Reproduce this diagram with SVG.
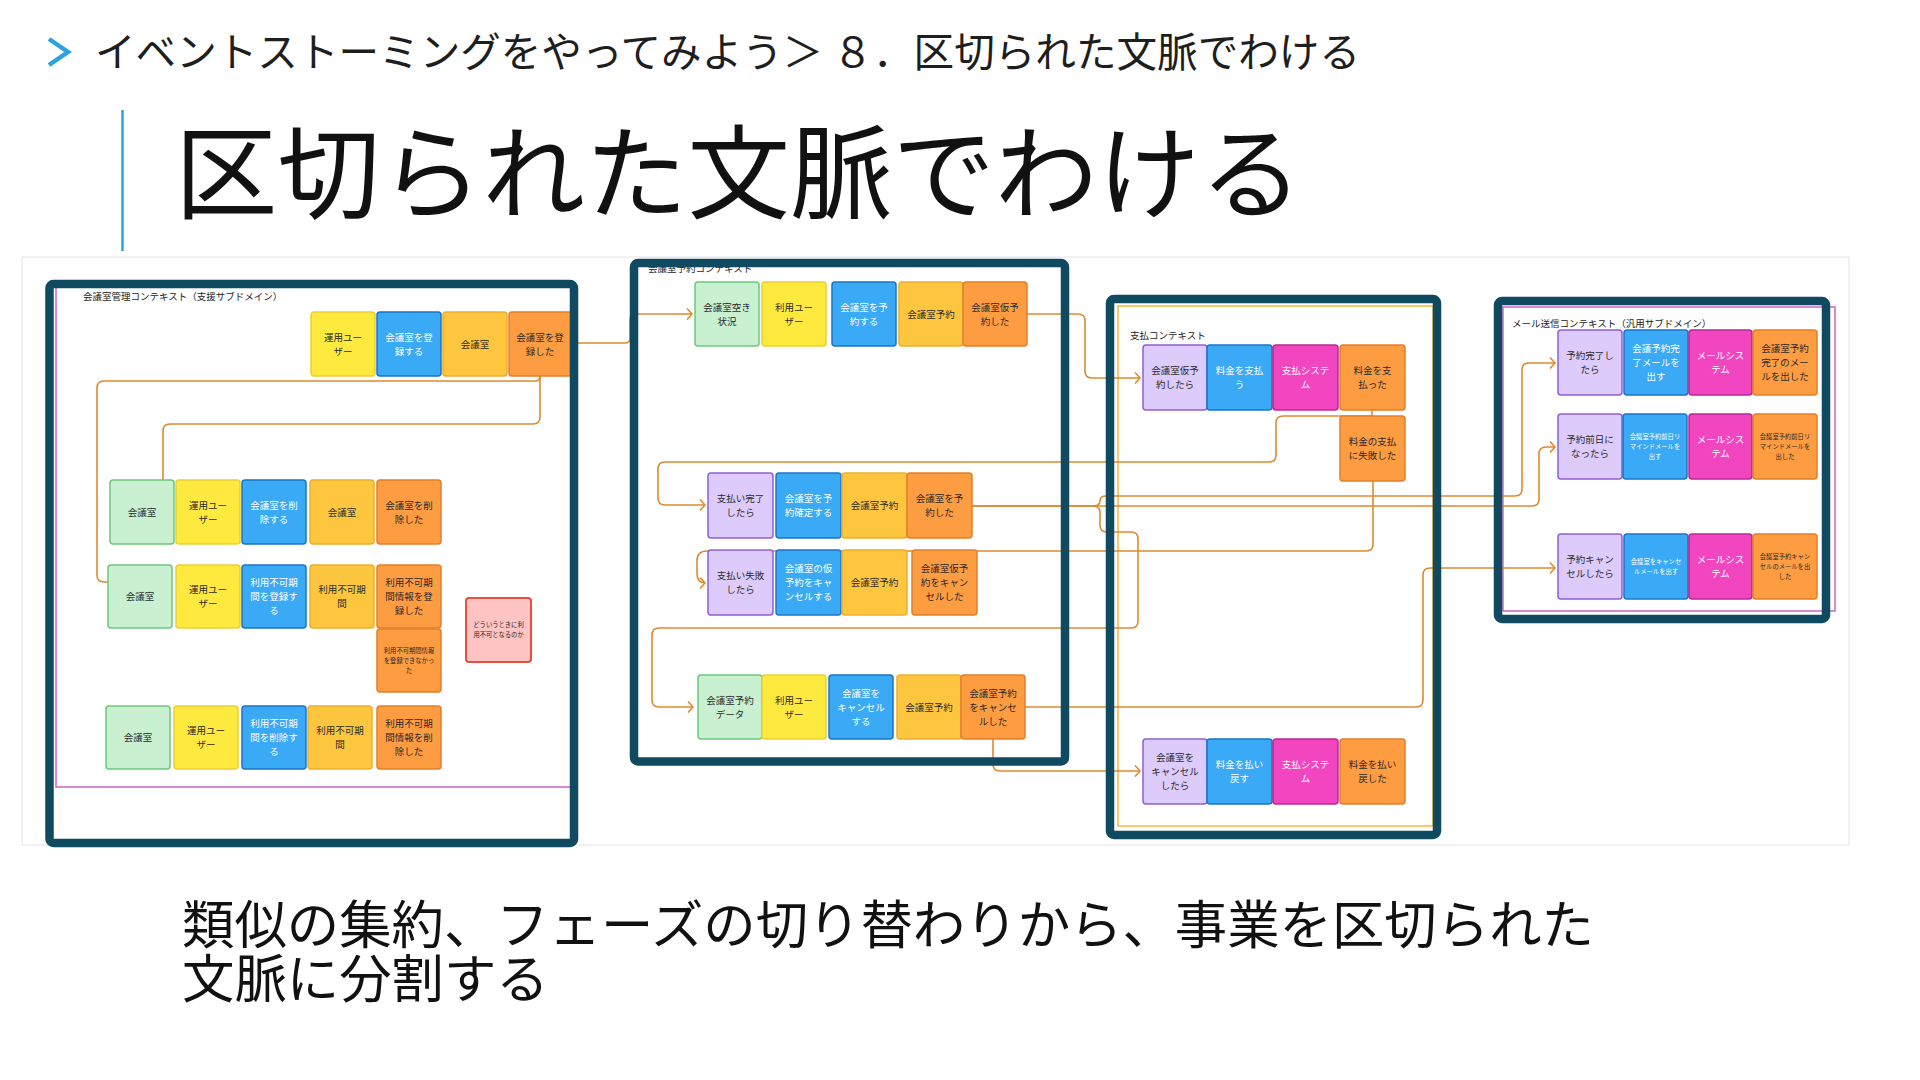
<svg xmlns="http://www.w3.org/2000/svg" width="1920" height="1080" viewBox="0 0 1920 1080">
<style>
text{font-family:"Noto Sans CJK JP","Noto Sans",sans-serif}
.s{stroke-width:1.5}
.g{fill:#c9f0d1;stroke:#6cc87a}
.y{fill:#fee93f;stroke:#ecd033}
.b{fill:#3aa9f6;stroke:#1a76c7}
.lo{fill:#fec63f;stroke:#ecae2d}
.o{fill:#fe9c42;stroke:#e47f28}
.p{fill:#dccbfb;stroke:#8f5fd8}
.m{fill:#f146c0;stroke:#b82a92}
.n{fill:#fec4c4;stroke:#e4513e;stroke-width:2}
.t{font-size:9.5px;fill:#2a2a2a;text-anchor:middle}
.tw{font-size:9.5px;fill:#ffffff;text-anchor:middle}
.ts{font-size:6.3px;fill:#2a2a2a;text-anchor:middle}
.tsw{font-size:6.3px;fill:#ffffff;text-anchor:middle}
.lbl{font-size:9.5px;fill:#222}
.frame{fill:none;stroke:#0f4a60;stroke-width:8.5}
.con{fill:none;stroke:#e0892e;stroke-width:1.6;stroke-linejoin:round}
</style>
<defs>
<marker id="ah" viewBox="0 0 10 12" refX="9" refY="6" markerWidth="10" markerHeight="12" orient="auto" markerUnits="userSpaceOnUse">
<path d="M4,0.5 L9,6 L4,11.5" fill="none" stroke="#e0892e" stroke-width="1.6"/>
</marker>
</defs>
<rect width="1920" height="1080" fill="#ffffff"/>

<g id="header">
<polyline points="49,39 68,52 49,65" fill="none" stroke="#2aa5de" stroke-width="4.5"/>
<text x="95" y="67" font-size="40.6" fill="#1e1e1e">イベントストーミングをやってみよう＞ ８．区切られた文脈でわける</text>
<line x1="122.5" y1="110" x2="122.5" y2="251" stroke="#2aa5de" stroke-width="2.5"/>
<text x="175" y="211" font-size="102.5" fill="#111">区切られた文脈でわける</text>
</g>

<rect id="panel" x="22" y="257" width="1827" height="588" fill="#ffffff" stroke="#e8e8e8" stroke-width="1.2"/>

<g id="context-areas">
<rect x="56" y="286" width="516" height="501" fill="none" stroke="#d063c9" stroke-width="1.5"/>
<rect x="1118" y="306" width="315" height="520" fill="none" stroke="#f6b83c" stroke-width="1.5"/>
<rect x="1503" y="307" width="332" height="304" fill="none" stroke="#d063c9" stroke-width="1.5"/>
<text class="lbl" x="83" y="299.5">会議室管理コンテキスト（支援サブドメイン）</text>
<text class="lbl" x="648" y="272">会議室予約コンテキスト</text>
<text class="lbl" x="1130" y="339">支払コンテキスト</text>
<text class="lbl" x="1512" y="326.5">メール送信コンテキスト（汎用サブドメイン）</text>
</g>

<g id="connectors">
<path class="con" d="M540,376 V417 Q540,424 533,424 H170 Q163,424 163,431 V480"/>
<path class="con" d="M540,376 Q540,381 535,381 H104 Q97,381 97,388 V575 Q97,582 104,582 H108"/>
<path class="con" d="M571,343 H625 Q630,343 630,338 V319 Q630,314 635,314 H692" marker-end="url(#ah)"/>
<path class="con" d="M1027,314 H1078 Q1085,314 1085,321 V371 Q1085,378 1092,378 H1140" marker-end="url(#ah)"/>
<path class="con" d="M1372,410 V416 H1283 Q1276,416 1276,423 V455 Q1276,462 1269,462 H665 Q658,462 658,469 V498 Q658,505 665,505 H705" marker-end="url(#ah)"/>
<path class="con" d="M1373,481 V544 Q1373,551 1366,551 H707 Q697,551 697,561 V573 Q697,583 705,583" marker-end="url(#ah)"/>
<path class="con" d="M972,506 H1092 Q1100,506 1100,501 Q1100,496 1106,496 H1515 Q1522,496 1522,489 V370 Q1522,363 1529,363 H1555" marker-end="url(#ah)"/>
<path class="con" d="M972,506 H1532 Q1539,506 1539,499 V454 Q1539,447 1546,447 H1555" marker-end="url(#ah)"/>
<path class="con" d="M1092,506 Q1100,506 1100,512 V525 Q1100,532 1107,532 H1131 Q1138,532 1138,539 V621 Q1138,628 1131,628 H659 Q652,628 652,635 V700 Q652,707 659,707 H693" marker-end="url(#ah)"/>
<path class="con" d="M1025,707 H1416 Q1423,707 1423,700 V575 Q1423,568 1430,568 H1555" marker-end="url(#ah)"/>
<path class="con" d="M993,739 V764 Q993,771 1000,771 H1140" marker-end="url(#ah)"/>
</g>

<!-- Box A stickies -->
<g id="a1-user"><rect class="s y" x="311" y="312" width="64" height="64" rx="3"/><text class="t"><tspan x="343" y="340.6">運用ユー</tspan><tspan x="343" y="354.6">ザー</tspan></text></g>
<g id="a1-cmd"><rect class="s b" x="377" y="312" width="64" height="64" rx="3"/><text class="tw"><tspan x="409" y="340.6">会議室を登</tspan><tspan x="409" y="354.6">録する</tspan></text></g>
<g id="a1-agg"><rect class="s lo" x="443" y="312" width="64" height="64" rx="3"/><text class="t" x="475" y="347.6">会議室</text></g>
<g id="a1-evt"><rect class="s o" x="509" y="312" width="63" height="64" rx="3"/><text class="t"><tspan x="540" y="340.6">会議室を登</tspan><tspan x="540" y="354.6">録した</tspan></text></g>

<g id="a2-rm"><rect class="s g" x="110" y="480" width="64" height="64" rx="3"/><text class="t" x="142" y="515.6">会議室</text></g>
<g id="a2-user"><rect class="s y" x="176" y="480" width="64" height="64" rx="3"/><text class="t"><tspan x="208" y="508.6">運用ユー</tspan><tspan x="208" y="522.6">ザー</tspan></text></g>
<g id="a2-cmd"><rect class="s b" x="242" y="480" width="64" height="64" rx="3"/><text class="tw"><tspan x="274" y="508.6">会議室を削</tspan><tspan x="274" y="522.6">除する</tspan></text></g>
<g id="a2-agg"><rect class="s lo" x="310" y="480" width="64" height="64" rx="3"/><text class="t" x="342" y="515.6">会議室</text></g>
<g id="a2-evt"><rect class="s o" x="377" y="480" width="64" height="64" rx="3"/><text class="t"><tspan x="409" y="508.6">会議室を削</tspan><tspan x="409" y="522.6">除した</tspan></text></g>

<g id="a3-rm"><rect class="s g" x="108" y="565" width="64" height="63" rx="3"/><text class="t" x="140" y="600.1">会議室</text></g>
<g id="a3-user"><rect class="s y" x="176" y="565" width="64" height="63" rx="3"/><text class="t"><tspan x="208" y="593.1">運用ユー</tspan><tspan x="208" y="607.1">ザー</tspan></text></g>
<g id="a3-cmd"><rect class="s b" x="242" y="565" width="64" height="63" rx="3"/><text class="tw"><tspan x="274" y="586.1">利用不可期</tspan><tspan x="274" y="600.1">間を登録す</tspan><tspan x="274" y="614.1">る</tspan></text></g>
<g id="a3-agg"><rect class="s lo" x="310" y="565" width="64" height="63" rx="3"/><text class="t"><tspan x="342" y="593.1">利用不可期</tspan><tspan x="342" y="607.1">間</tspan></text></g>
<g id="a3-evt"><rect class="s o" x="377" y="565" width="64" height="63" rx="3"/><text class="t"><tspan x="409" y="586.1">利用不可期</tspan><tspan x="409" y="600.1">間情報を登</tspan><tspan x="409" y="614.1">録した</tspan></text></g>
<g id="a3-fail"><rect class="s o" x="377" y="629" width="64" height="63" rx="3"/><text class="ts"><tspan x="409" y="652.9">利用不可期間情報</tspan><tspan x="409" y="662.9">を登録できなかっ</tspan><tspan x="409" y="672.9">た</tspan></text></g>
<g id="a-note"><rect class="n" x="466" y="598" width="65" height="64" rx="3"/><text class="ts"><tspan x="498.5" y="627.4">どういうときに利</tspan><tspan x="498.5" y="637.4">用不可となるのか</tspan></text></g>

<g id="a4-rm"><rect class="s g" x="106" y="706" width="64" height="63" rx="3"/><text class="t" x="138" y="741.1">会議室</text></g>
<g id="a4-user"><rect class="s y" x="174" y="706" width="64" height="63" rx="3"/><text class="t"><tspan x="206" y="734.1">運用ユー</tspan><tspan x="206" y="748.1">ザー</tspan></text></g>
<g id="a4-cmd"><rect class="s b" x="242" y="706" width="64" height="63" rx="3"/><text class="tw"><tspan x="274" y="727.1">利用不可期</tspan><tspan x="274" y="741.1">間を削除す</tspan><tspan x="274" y="755.1">る</tspan></text></g>
<g id="a4-agg"><rect class="s lo" x="308" y="706" width="64" height="63" rx="3"/><text class="t"><tspan x="340" y="734.1">利用不可期</tspan><tspan x="340" y="748.1">間</tspan></text></g>
<g id="a4-evt"><rect class="s o" x="377" y="706" width="64" height="63" rx="3"/><text class="t"><tspan x="409" y="727.1">利用不可期</tspan><tspan x="409" y="741.1">間情報を削</tspan><tspan x="409" y="755.1">除した</tspan></text></g>

<!-- Box B stickies -->
<g id="b1-read"><rect class="s g" x="695" y="282" width="64" height="64" rx="3"/><text class="t"><tspan x="727" y="310.6">会議室空き</tspan><tspan x="727" y="324.6">状況</tspan></text></g>
<g id="b1-user"><rect class="s y" x="762" y="282" width="64" height="64" rx="3"/><text class="t"><tspan x="794" y="310.6">利用ユー</tspan><tspan x="794" y="324.6">ザー</tspan></text></g>
<g id="b1-cmd"><rect class="s b" x="832" y="282" width="64" height="64" rx="3"/><text class="tw"><tspan x="864" y="310.6">会議室を予</tspan><tspan x="864" y="324.6">約する</tspan></text></g>
<g id="b1-agg"><rect class="s lo" x="899" y="282" width="64" height="64" rx="3"/><text class="t" x="931" y="317.6">会議室予約</text></g>
<g id="b1-evt"><rect class="s o" x="963" y="282" width="64" height="64" rx="3"/><text class="t"><tspan x="995" y="310.6">会議室仮予</tspan><tspan x="995" y="324.6">約した</tspan></text></g>

<g id="b2-pol"><rect class="s p" x="708" y="473" width="65" height="65" rx="3"/><text class="t"><tspan x="740.5" y="502.1">支払い完了</tspan><tspan x="740.5" y="516.1">したら</tspan></text></g>
<g id="b2-cmd"><rect class="s b" x="776" y="473" width="65" height="65" rx="3"/><text class="tw"><tspan x="808.5" y="502.1">会議室を予</tspan><tspan x="808.5" y="516.1">約確定する</tspan></text></g>
<g id="b2-agg"><rect class="s lo" x="842" y="473" width="65" height="65" rx="3"/><text class="t" x="874.5" y="509.1">会議室予約</text></g>
<g id="b2-evt"><rect class="s o" x="907" y="473" width="65" height="65" rx="3"/><text class="t"><tspan x="939.5" y="502.1">会議室を予</tspan><tspan x="939.5" y="516.1">約した</tspan></text></g>

<g id="b3-pol"><rect class="s p" x="708" y="550" width="65" height="65" rx="3"/><text class="t"><tspan x="740.5" y="579.1">支払い失敗</tspan><tspan x="740.5" y="593.1">したら</tspan></text></g>
<g id="b3-cmd"><rect class="s b" x="776" y="550" width="65" height="65" rx="3"/><text class="tw"><tspan x="808.5" y="572.1">会議室の仮</tspan><tspan x="808.5" y="586.1">予約をキャ</tspan><tspan x="808.5" y="600.1">ンセルする</tspan></text></g>
<g id="b3-agg"><rect class="s lo" x="842" y="550" width="65" height="65" rx="3"/><text class="t" x="874.5" y="586.1">会議室予約</text></g>
<g id="b3-evt"><rect class="s o" x="912" y="550" width="65" height="65" rx="3"/><text class="t"><tspan x="944.5" y="572.1">会議室仮予</tspan><tspan x="944.5" y="586.1">約をキャン</tspan><tspan x="944.5" y="600.1">セルした</tspan></text></g>

<g id="b4-read"><rect class="s g" x="698" y="675" width="64" height="64" rx="3"/><text class="t"><tspan x="730" y="703.6">会議室予約</tspan><tspan x="730" y="717.6">データ</tspan></text></g>
<g id="b4-user"><rect class="s y" x="762" y="675" width="64" height="64" rx="3"/><text class="t"><tspan x="794" y="703.6">利用ユー</tspan><tspan x="794" y="717.6">ザー</tspan></text></g>
<g id="b4-cmd"><rect class="s b" x="829" y="675" width="64" height="64" rx="3"/><text class="tw"><tspan x="861" y="696.6">会議室を</tspan><tspan x="861" y="710.6">キャンセル</tspan><tspan x="861" y="724.6">する</tspan></text></g>
<g id="b4-agg"><rect class="s lo" x="897" y="675" width="64" height="64" rx="3"/><text class="t" x="929" y="710.6">会議室予約</text></g>
<g id="b4-evt"><rect class="s o" x="961" y="675" width="64" height="64" rx="3"/><text class="t"><tspan x="993" y="696.6">会議室予約</tspan><tspan x="993" y="710.6">をキャンセ</tspan><tspan x="993" y="724.6">ルした</tspan></text></g>

<!-- Box C stickies -->
<g id="c1-pol"><rect class="s p" x="1143" y="345" width="64" height="65" rx="3"/><text class="t"><tspan x="1175" y="374.1">会議室仮予</tspan><tspan x="1175" y="388.1">約したら</tspan></text></g>
<g id="c1-cmd"><rect class="s b" x="1207" y="345" width="65" height="65" rx="3"/><text class="tw"><tspan x="1239.5" y="374.1">料金を支払</tspan><tspan x="1239.5" y="388.1">う</tspan></text></g>
<g id="c1-ext"><rect class="s m" x="1273" y="345" width="65" height="65" rx="3"/><text class="tw"><tspan x="1305.5" y="374.1">支払システ</tspan><tspan x="1305.5" y="388.1">ム</tspan></text></g>
<g id="c1-evt"><rect class="s o" x="1340" y="345" width="65" height="65" rx="3"/><text class="t"><tspan x="1372.5" y="374.1">料金を支</tspan><tspan x="1372.5" y="388.1">払った</tspan></text></g>
<g id="c1-fail"><rect class="s o" x="1340" y="416" width="65" height="65" rx="3"/><text class="t"><tspan x="1372.5" y="445.1">料金の支払</tspan><tspan x="1372.5" y="459.1">に失敗した</tspan></text></g>

<g id="c2-pol"><rect class="s p" x="1143" y="739" width="64" height="65" rx="3"/><text class="t"><tspan x="1175" y="761.1">会議室を</tspan><tspan x="1175" y="775.1">キャンセル</tspan><tspan x="1175" y="789.1">したら</tspan></text></g>
<g id="c2-cmd"><rect class="s b" x="1207" y="739" width="65" height="65" rx="3"/><text class="tw"><tspan x="1239.5" y="768.1">料金を払い</tspan><tspan x="1239.5" y="782.1">戻す</tspan></text></g>
<g id="c2-ext"><rect class="s m" x="1273" y="739" width="65" height="65" rx="3"/><text class="tw"><tspan x="1305.5" y="768.1">支払システ</tspan><tspan x="1305.5" y="782.1">ム</tspan></text></g>
<g id="c2-evt"><rect class="s o" x="1340" y="739" width="65" height="65" rx="3"/><text class="t"><tspan x="1372.5" y="768.1">料金を払い</tspan><tspan x="1372.5" y="782.1">戻した</tspan></text></g>

<!-- Box D stickies -->
<g id="d1-pol"><rect class="s p" x="1558" y="330" width="64" height="65" rx="3"/><text class="t"><tspan x="1590" y="359.1">予約完了し</tspan><tspan x="1590" y="373.1">たら</tspan></text></g>
<g id="d1-cmd"><rect class="s b" x="1624" y="330" width="64" height="65" rx="3"/><text class="tw"><tspan x="1656" y="352.1">会議予約完</tspan><tspan x="1656" y="366.1">了メールを</tspan><tspan x="1656" y="380.1">出す</tspan></text></g>
<g id="d1-ext"><rect class="s m" x="1689" y="330" width="63" height="65" rx="3"/><text class="tw"><tspan x="1720.5" y="359.1">メールシス</tspan><tspan x="1720.5" y="373.1">テム</tspan></text></g>
<g id="d1-evt"><rect class="s o" x="1753" y="330" width="64" height="65" rx="3"/><text class="t"><tspan x="1785" y="352.1">会議室予約</tspan><tspan x="1785" y="366.1">完了のメー</tspan><tspan x="1785" y="380.1">ルを出した</tspan></text></g>

<g id="d2-pol"><rect class="s p" x="1558" y="414" width="64" height="65" rx="3"/><text class="t"><tspan x="1590" y="443.1">予約前日に</tspan><tspan x="1590" y="457.1">なったら</tspan></text></g>
<g id="d2-cmd"><rect class="s b" x="1623" y="414" width="64" height="65" rx="3"/><text class="tsw"><tspan x="1655" y="438.9">会議室予約前日リ</tspan><tspan x="1655" y="448.9">マインドメールを</tspan><tspan x="1655" y="458.9">出す</tspan></text></g>
<g id="d2-ext"><rect class="s m" x="1689" y="414" width="63" height="65" rx="3"/><text class="tw"><tspan x="1720.5" y="443.1">メールシス</tspan><tspan x="1720.5" y="457.1">テム</tspan></text></g>
<g id="d2-evt"><rect class="s o" x="1753" y="414" width="64" height="65" rx="3"/><text class="ts"><tspan x="1785" y="438.9">会議室予約前日リ</tspan><tspan x="1785" y="448.9">マインドメールを</tspan><tspan x="1785" y="458.9">出した</tspan></text></g>

<g id="d3-pol"><rect class="s p" x="1558" y="534" width="64" height="65" rx="3"/><text class="t"><tspan x="1590" y="563.1">予約キャン</tspan><tspan x="1590" y="577.1">セルしたら</tspan></text></g>
<g id="d3-cmd"><rect class="s b" x="1624" y="534" width="64" height="65" rx="3"/><text class="tsw"><tspan x="1656" y="563.9">会議室をキャンセ</tspan><tspan x="1656" y="573.9">ルメールを出す</tspan></text></g>
<g id="d3-ext"><rect class="s m" x="1689" y="534" width="63" height="65" rx="3"/><text class="tw"><tspan x="1720.5" y="563.1">メールシス</tspan><tspan x="1720.5" y="577.1">テム</tspan></text></g>
<g id="d3-evt"><rect class="s o" x="1753" y="534" width="64" height="65" rx="3"/><text class="ts"><tspan x="1785" y="558.9">会議室予約キャン</tspan><tspan x="1785" y="568.9">セルのメールを出</tspan><tspan x="1785" y="578.9">した</tspan></text></g>

<g id="frames">
<rect class="frame" x="49.5" y="284" width="524.5" height="559" rx="4"/>
<rect class="frame" x="634" y="263" width="431" height="498.5" rx="4"/>
<rect class="frame" x="1110" y="299" width="327" height="536" rx="4"/>
<rect class="frame" x="1498" y="301" width="328" height="318" rx="4"/>
</g>

<g id="caption">
<text x="182" y="944" font-size="52.4" fill="#111">類似の集約、フェーズの切り替わりから、事業を区切られた</text>
<text x="182" y="998" font-size="52.4" fill="#111">文脈に分割する</text>
</g>
</svg>
